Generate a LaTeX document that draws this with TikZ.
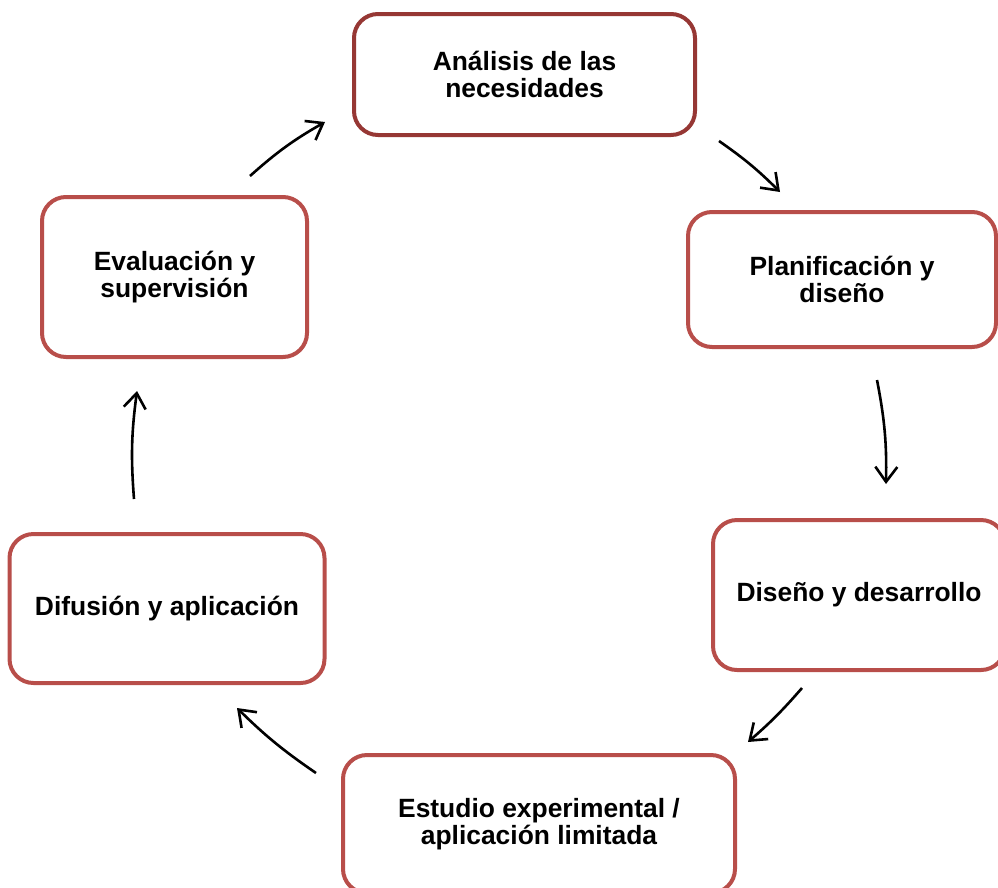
\documentclass[tikz,border=0pt]{standalone}
\usepackage{fontspec}
\setmainfont{Liberation Sans}
\usetikzlibrary{arrows.meta}
\definecolor{darkred}{RGB}{150,55,52}
\definecolor{boxred}{RGB}{184,78,74}
\tikzset{
  stagebox/.style={draw=boxred, line width=4pt, rounded corners=24pt, fill=white,
    align=center, font=\fontsize{26.4}{27.5}\selectfont\bfseries, inner sep=0pt},
  flow/.style={line width=2.6pt, -{Straight Barb[length=15pt,width=22pt,line width=2.6pt]}}
}
\begin{document}
\begin{tikzpicture}[x=1pt,y=-1pt]
\useasboundingbox (0,0) rectangle (998,887);
\clip (0,0) rectangle (998,887);
\node[stagebox, draw=darkred, minimum width=341pt, minimum height=121pt] (a) at (524.5,74.5) {Análisis de las\\necesidades};
\node[stagebox, minimum width=308pt, minimum height=135pt] (b) at (842,279.5) {Planificación y\\diseño};
\node[stagebox, minimum width=292pt, minimum height=150pt] (c) at (859,595) {Diseño y desarrollo};
\node[stagebox, minimum width=392pt, minimum height=138pt] (d) at (539,824) {Estudio experimental /\\aplicación limitada};
\node[stagebox, minimum width=315pt, minimum height=149pt] (e) at (167,608.5) {Difusión y aplicación};
\node[stagebox, minimum width=265pt, minimum height=160pt] (f) at (174.5,277) {Evaluación y\\supervisión};

\coordinate (a1s) at (250,176); \coordinate (a1e) at (325,122);
\coordinate (a2s) at (719,141); \coordinate (a2e) at (780,192);
\coordinate (a3s) at (877,380); \coordinate (a3e) at (886,484);
\coordinate (a4s) at (802,688); \coordinate (a4e) at (748,742);
\coordinate (a5s) at (316,773); \coordinate (a5e) at (237,708);
\coordinate (a6s) at (134,499); \coordinate (a6e) at (137,391);

\draw[flow] (a1s) to[bend left=6] (a1e);
\draw[flow] (a2s) to[bend left=5] (a2e);
\draw[flow] (a3s) to[bend left=6] (a3e);
\draw[flow] (a4s) to[bend left=4] (a4e);
\draw[flow] (a5s) to[bend left=5] (a5e);
\draw[flow] (a6s) to[bend left=6] (a6e);
\end{tikzpicture}
\end{document}
